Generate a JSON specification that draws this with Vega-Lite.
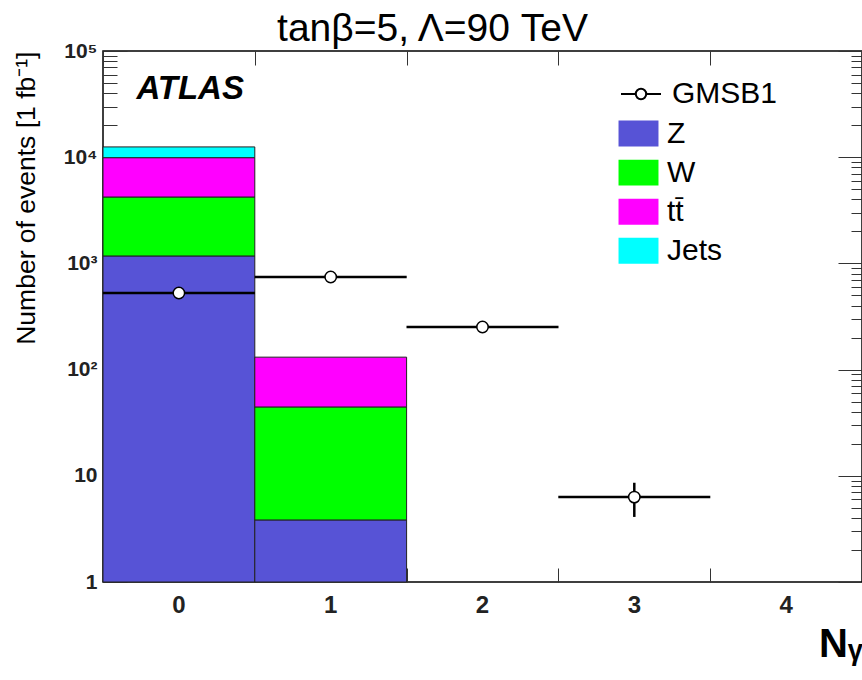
{
  "$schema": "https://vega.github.io/schema/vega-lite/v6.json",
  "width": 759,
  "height": 531,
  "autosize": {"type": "none"},
  "padding": {"left": 103, "top": 51, "right": 0, "bottom": 98},
  "background": "white",
  "config": {"view": {"stroke": "black", "strokeWidth": 1.5}, "font": "Liberation Sans"},
  "title": {"text": "tanβ=5, Λ=90 TeV", "fontSize": 39, "fontWeight": "normal", "anchor": "middle", "dx": -50, "offset": -9, "color": "black", "font": "Liberation Sans"},
  "datasets": {
    "bars": [
      {"n": 0, "proc": "Z", "lo": 1, "hi": 1175},
      {"n": 0, "proc": "W", "lo": 1175, "hi": 4220},
      {"n": 0, "proc": "tt̄", "lo": 4220, "hi": 9900},
      {"n": 0, "proc": "Jets", "lo": 9900, "hi": 12500},
      {"n": 1, "proc": "Z", "lo": 1, "hi": 3.84},
      {"n": 1, "proc": "W", "lo": 3.84, "hi": 44.5},
      {"n": 1, "proc": "tt̄", "lo": 44.5, "hi": 131}
    ],
    "gmsb": [
      {"n": 0, "v": 527, "elo": 505, "ehi": 550},
      {"n": 1, "v": 745, "elo": 720, "ehi": 770},
      {"n": 2, "v": 252, "elo": 238, "ehi": 266},
      {"n": 3, "v": 6.3, "elo": 4.1, "ehi": 8.6}
    ]
  },
  "layer": [
    {
      "data": {"name": "gmsb"},
      "mark": {"type": "point", "opacity": 0},
      "encoding": {
        "x": {"field": "n", "type": "ordinal",
          "scale": {"domain": [0, 1, 2, 3, 4], "paddingInner": 0, "paddingOuter": 0},
          "axis": {"orient": "bottom", "title": null, "labels": false, "tickBand": "extent", "tickSize": -14, "tickColor": "#333333", "domain": false}},
        "y": {"field": "v", "type": "quantitative",
          "scale": {"type": "log", "domain": [1, 100000], "nice": false},
          "axis": {"orient": "right", "offset": -759, "title": null, "labels": false,
            "values": [1,2,3,4,5,6,7,8,9,10,20,30,40,50,60,70,80,90,100,200,300,400,500,600,700,800,900,1000,2000,3000,4000,5000,6000,7000,8000,9000,10000,20000,30000,40000,50000,60000,70000,80000,90000,100000],
            "tickSize": {"condition": {"test": "datum.value == 1 || datum.value == 10 || datum.value == 100 || datum.value == 1000 || datum.value == 10000 || datum.value == 100000", "value": 24}, "value": 14},
            "tickColor": "#333333", "domain": false, "grid": false}}
      }
    },
    {
      "layer": [
        {
          "data": {"name": "bars"},
          "mark": {"type": "bar", "stroke": "#222222", "strokeWidth": 1},
          "encoding": {
            "x": {"field": "n", "type": "ordinal",
              "scale": {"domain": [0, 1, 2, 3, 4], "paddingInner": 0, "paddingOuter": 0},
              "axis": {"orient": "bottom", "title": "Nᵧ", "titleFontSize": 40, "titleFontWeight": "bold", "titleAnchor": "end", "titleColor": "black", "titlePadding": 7, "titleFont": "Liberation Sans",
                "labelFontSize": 24, "labelFontWeight": "bold", "labelColor": "#222222", "labelAngle": 0, "labelPadding": 11,
                "ticks": false, "domain": false}},
            "y": {"field": "hi", "type": "quantitative",
              "scale": {"type": "log", "domain": [1, 100000], "nice": false},
              "axis": {"orient": "left", "title": "Number of events [1 fb⁻¹]", "titleFontSize": 26.5, "titleFontWeight": "normal", "titleAnchor": "end", "titleColor": "black", "titlePadding": 23,
                "values": [1, 10, 100, 1000, 10000, 100000],
                "labelExpr": "datum.value == 1 ? '1' : datum.value == 10 ? '10' : datum.value == 100 ? '10²' : datum.value == 1000 ? '10³' : datum.value == 10000 ? '10⁴' : '10⁵'",
                "labelFontSize": 21, "labelFontWeight": "bold", "labelColor": "#222222", "labelPadding": 6,
                "ticks": false, "domain": false, "grid": false}},
            "y2": {"field": "lo"},
            "fill": {"field": "proc", "type": "nominal",
              "scale": {"domain": ["Z", "W", "tt̄", "Jets"], "range": ["#5753d6", "#00ff00", "#ff00ff", "#00ffff"]},
              "legend": {"orient": "none", "legendX": 517, "legendY": 64, "title": null, "padding": 0, "symbolSize": 1369,
                "symbolType": "M-1.08,-0.7H1.08V0.7H-1.08Z", "symbolStrokeWidth": 0, "symbolOpacity": 1,
                "labelFontSize": 30, "labelFont": "Liberation Sans", "labelColor": "black", "labelOffset": 10, "rowPadding": 5.1, "labelLimit": 300,
                "encode": {"labels": {"update": {"dy": {"value": 6}}}}}}
          }
        },
        {
          "data": {"name": "gmsb"},
          "mark": {"type": "tick", "orient": "horizontal", "size": 152, "thickness": 2.5, "color": "black", "opacity": 1},
          "encoding": {
            "x": {"field": "n", "type": "ordinal"},
            "y": {"field": "v", "type": "quantitative"}
          }
        },
        {
          "data": {"name": "gmsb"},
          "mark": {"type": "rule", "strokeWidth": 2.5, "color": "black"},
          "encoding": {
            "x": {"field": "n", "type": "ordinal"},
            "y": {"field": "elo", "type": "quantitative"},
            "y2": {"field": "ehi"}
          }
        },
        {
          "data": {"name": "gmsb"},
          "mark": {"type": "point", "filled": true, "fill": "white", "strokeWidth": 1.5, "size": 130, "opacity": 1},
          "encoding": {
            "x": {"field": "n", "type": "ordinal"},
            "y": {"field": "v", "type": "quantitative"},
            "stroke": {"datum": "GMSB1", "type": "nominal",
              "scale": {"domain": ["GMSB1"], "range": ["black"]},
              "legend": {"orient": "none", "legendX": 517, "legendY": 22, "title": null, "padding": 0, "symbolSize": 1600,
                "symbolType": "M-1,0H-0.26M0.26,0H1M0.26,0A0.26,0.26 0 1 1 -0.26,0A0.26,0.26 0 1 1 0.26,0",
                "symbolFillColor": "white", "symbolStrokeColor": "black", "symbolStrokeWidth": 2, "symbolOpacity": 1,
                "labelFontSize": 30, "labelFont": "Liberation Sans", "labelColor": "black", "labelOffset": 10, "labelLimit": 300,
                "encode": {"labels": {"update": {"dy": {"value": 6}}}}}}
          }
        },
        {
          "data": {"values": [{"label": "ATLAS"}]},
          "mark": {"type": "text", "fontSize": 33, "fontWeight": "bold", "fontStyle": "italic", "align": "left", "baseline": "middle", "color": "black", "font": "Liberation Sans"},
          "encoding": {
            "x": {"datum": 0, "type": "ordinal", "bandPosition": 0.22},
            "y": {"datum": 43900, "type": "quantitative"},
            "text": {"field": "label"}
          }
        }
      ]
    },
    {
      "data": {"name": "gmsb"},
      "mark": {"type": "point", "opacity": 0},
      "encoding": {
        "x": {"field": "n", "type": "ordinal",
          "scale": {"domain": [0, 1, 2, 3, 4], "paddingInner": 0, "paddingOuter": 0},
          "axis": {"orient": "top", "title": null, "labels": false, "tickBand": "extent", "tickSize": -14, "tickColor": "#333333", "domain": false}},
        "y": {"field": "v", "type": "quantitative",
          "scale": {"type": "log", "domain": [1, 100000], "nice": false},
          "axis": {"orient": "right", "title": null, "labels": false,
            "values": [1,2,3,4,5,6,7,8,9,10,20,30,40,50,60,70,80,90,100,200,300,400,500,600,700,800,900,1000,2000,3000,4000,5000,6000,7000,8000,9000,10000,20000,30000,40000,50000,60000,70000,80000,90000,100000],
            "tickSize": {"condition": {"test": "datum.value == 1 || datum.value == 10 || datum.value == 100 || datum.value == 1000 || datum.value == 10000 || datum.value == 100000", "value": -24}, "value": -11},
            "tickColor": "#333333", "domain": false, "grid": false}}
      }
    }
  ],
  "resolve": {"scale": {"x": "independent", "y": "independent"}}
}
